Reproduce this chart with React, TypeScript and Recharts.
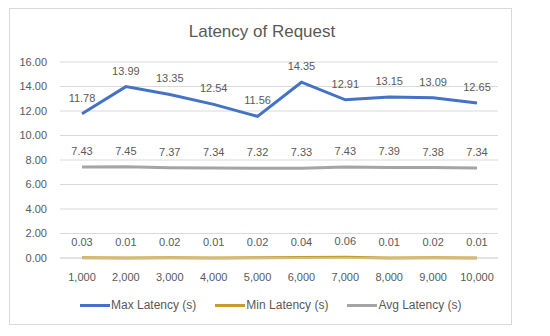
import React from "react";
import { LineChart, Line, XAxis, YAxis, CartesianGrid, LabelList } from "recharts";

const categories = ["1,000", "2,000", "3,000", "4,000", "5,000", "6,000", "7,000", "8,000", "9,000", "10,000"];
const maxLatency = [11.78, 13.99, 13.35, 12.54, 11.56, 14.35, 12.91, 13.15, 13.09, 12.65];
const minLatency = [0.03, 0.01, 0.02, 0.01, 0.02, 0.04, 0.06, 0.01, 0.02, 0.01];
const avgLatency = [7.43, 7.45, 7.37, 7.34, 7.32, 7.33, 7.43, 7.39, 7.38, 7.34];
const yTicks = [0, 2, 4, 6, 8, 10, 12, 14, 16];

const seriesNames = ["Max Latency (s)", "Min Latency (s)", "Avg Latency (s)"];
const colors = ["#4472C4", "#C89B30", "#A5A5A5"];

const data = categories.map((c, i) => ({
  cat: c,
  max: maxLatency[i],
  min: minLatency[i],
  avg: avgLatency[i],
}));

const FONT = "'Liberation Sans', Arial, sans-serif";
const TXT = "#595959";

const fmt = (v: number) => Number(v).toFixed(2);

export default function App() {
  return (
    <div style={{ position: "absolute", left: 0, top: 0, width: 550, height: 336, background: "#fff", fontFamily: FONT }}>
      <div
        style={{
          position: "absolute",
          left: 9,
          top: 8,
          width: 503,
          height: 317,
          border: "1px solid #D9D9D9",
          boxSizing: "border-box",
        }}
      />
      <div
        style={{
          position: "absolute",
          left: 0,
          width: 524,
          top: 21,
          textAlign: "center",
          fontSize: 17,
          color: TXT,
          lineHeight: "22px",
        }}
      >
        Latency of Request
      </div>
      <div style={{ position: "absolute", left: 0, top: 0 }}>
        <LineChart width={550} height={336} data={data} margin={{ top: 62, left: 10, right: 52, bottom: 48 }}>
          <CartesianGrid vertical={false} stroke="#D9D9D9" />
          <XAxis
            dataKey="cat"
            tickLine={false}
            axisLine={{ stroke: "#D9D9D9" }}
            tick={{ fill: TXT, fontSize: 11, fontFamily: FONT }}
            tickMargin={9}
            interval={0}
            padding={{ left: 22, right: 21 }}
          />
          <YAxis
            width={50}
            domain={[0, 16]}
            ticks={yTicks}
            tickFormatter={fmt}
            tickLine={false}
            axisLine={false}
            tickSize={0}
            tick={{ fill: TXT, fontSize: 11, fontFamily: FONT }}
            tickMargin={13}
          />
          <Line dataKey="max" stroke={colors[0]} strokeWidth={3} dot={false} isAnimationActive={false}>
            <LabelList dataKey="max" position="top" offset={12} fill={TXT} fontSize={11} fontFamily={FONT} formatter={fmt} />
          </Line>
          <Line dataKey="min" stroke={colors[1]} strokeWidth={3} dot={false} isAnimationActive={false}>
            <LabelList dataKey="min" position="top" offset={12} fill={TXT} fontSize={11} fontFamily={FONT} formatter={fmt} />
          </Line>
          <Line dataKey="avg" stroke={colors[2]} strokeWidth={3} dot={false} isAnimationActive={false}>
            <LabelList dataKey="avg" position="top" offset={12} fill={TXT} fontSize={11} fontFamily={FONT} formatter={fmt} />
          </Line>
        </LineChart>
      </div>
      <div
        style={{
          position: "absolute",
          top: 297,
          left: 80,
          display: "flex",
          alignItems: "center",
          fontSize: 12,
          color: TXT,
          lineHeight: "16px",
        }}
      >
        {seriesNames.map((n, i) => (
          <div key={n} style={{ display: "flex", alignItems: "center", marginRight: 19 }}>
            <div style={{ width: 30, height: 3, background: colors[i], marginRight: 1 }} />
            <span>{n}</span>
          </div>
        ))}
      </div>
    </div>
  );
}
